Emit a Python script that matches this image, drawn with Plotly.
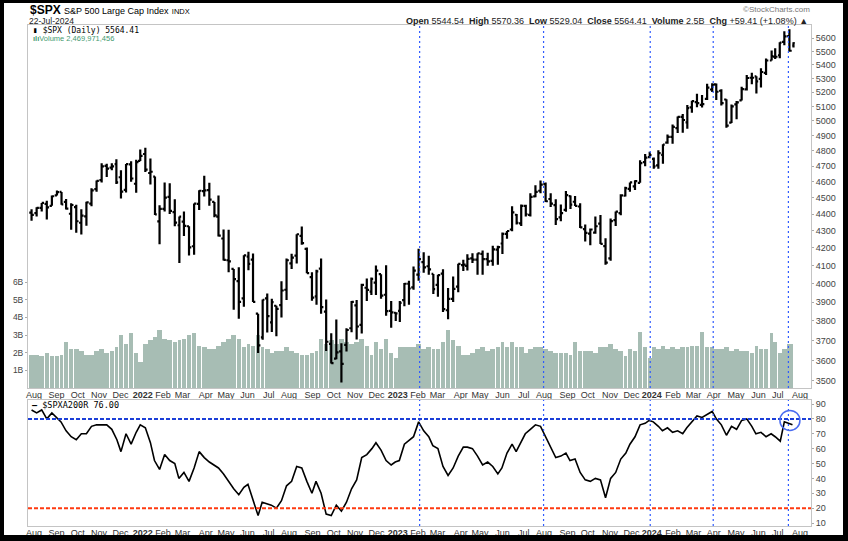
import math
import pandas as pd
import plotly.graph_objects as go

# Weekly $SPX bars (Mon-Fri weeks from 26-Jul-2021); the last entry is the single session of 22-Jul-2024
spx_open = [
    4409, 4406, 4437, 4462, 4450, 4514, 4536, 4474, 4402, 4442, 4348, 4386, 4464, 4553, 4610, 4701, 4689, 4712, 4628, 4548, 4710, 4587, 4733,
    4778, 4655, 4632, 4356, 4431, 4505, 4412, 4333, 4355, 4327, 4210, 4462, 4541, 4547, 4474, 4385, 4255, 4130, 4081, 4013, 3920, 4151, 4134, 3838, 3715, 3920,
    3792, 3880, 3883, 3966, 4112, 4156, 4270, 4195, 4035, 3930, 4083, 3849, 3682, 3609, 3645, 3677, 3762, 3882, 3780, 3977, 3956, 4005, 4052, 3939, 3853, 3843,
    3853, 3910, 3999, 3979, 4049, 4119, 4096, 4053, 3993, 4055, 3856, 3917, 3983, 4102, 4098, 4140, 4134, 4166, 4136, 4126, 4191, 4226, 4282, 4308, 4396, 4344,
    4450, 4395, 4508, 4543, 4584, 4492, 4454, 4380, 4426, 4510, 4475, 4446, 4310, 4284, 4289, 4343, 4211, 4140, 4364, 4406, 4512, 4555, 4570, 4593, 4725, 4758,
    4746, 4704, 4772, 4853, 4892, 4950, 5027, 4990, 5094, 5130, 5111, 5154, 5220, 5257, 5211, 5149, 4988, 5114, 5143, 5221, 5305, 5315, 5297, 5341, 5432, 5460,
    5471, 5572, 5616, 5545,
]
spx_high = [
    4429, 4441, 4468, 4481, 4513, 4545, 4536, 4492, 4466, 4457, 4429, 4475, 4559, 4608, 4718, 4714, 4718, 4743, 4672, 4713, 4731, 4740, 4808,
    4819, 4749, 4632, 4453, 4595, 4590, 4490, 4385, 4416, 4327, 4465, 4546, 4637, 4593, 4474, 4513, 4308, 4307, 4081, 4090, 4158, 4178, 4169, 3838, 3913, 3946,
    3918, 3880, 4012, 4140, 4167, 4280, 4325, 4203, 4062, 4076, 4140, 3914, 3736, 3807, 3685, 3762, 3906, 3911, 3999, 4028, 4034, 4100, 4052, 4101, 3905, 3846,
    3906, 4003, 4015, 4095, 4195, 4176, 4156, 4053, 4049, 4079, 3975, 4039, 4110, 4133, 4164, 4170, 4170, 4186, 4172, 4213, 4213, 4290, 4299, 4448, 4400, 4458,
    4456, 4528, 4578, 4607, 4595, 4527, 4490, 4458, 4541, 4514, 4511, 4466, 4338, 4314, 4385, 4394, 4256, 4374, 4415, 4521, 4568, 4595, 4609, 4738, 4778, 4793,
    4755, 4802, 4842, 4907, 4975, 5030, 5048, 5111, 5140, 5189, 5180, 5261, 5265, 5264, 5222, 5150, 5114, 5139, 5240, 5325, 5342, 5315, 5375, 5447, 5506, 5524,
    5570, 5655, 5669, 5570,
]
spx_low = [
    4360, 4385, 4416, 4367, 4450, 4513, 4457, 4427, 4306, 4289, 4278, 4330, 4447, 4537, 4595, 4630, 4672, 4585, 4495, 4532, 4600, 4531, 4733,
    4662, 4582, 4395, 4222, 4415, 4401, 4327, 4115, 4270, 4157, 4161, 4424, 4507, 4450, 4381, 4267, 4129, 4062, 3859, 3811, 3875, 4073, 3900, 3637, 3703, 3740,
    3743, 3721, 3818, 3911, 4080, 4112, 4218, 4057, 3907, 3886, 3838, 3647, 3584, 3606, 3492, 3644, 3742, 3704, 3735, 3906, 3938, 3938, 3918, 3827, 3765, 3800,
    3794, 3877, 3885, 3966, 4015, 4060, 4048, 3943, 3928, 3847, 3809, 3900, 3952, 4070, 4072, 4114, 4049, 4048, 4099, 4099, 4104, 4166, 4253, 4298, 4337, 4328,
    4385, 4386, 4502, 4528, 4474, 4443, 4335, 4357, 4414, 4430, 4449, 4317, 4238, 4216, 4283, 4223, 4104, 4127, 4329, 4393, 4507, 4537, 4547, 4593, 4699, 4751,
    4682, 4682, 4714, 4845, 4845, 4918, 4920, 4946, 5057, 5094, 5092, 5146, 5203, 5146, 5107, 4953, 4986, 5011, 5142, 5212, 5257, 5191, 5234, 5325, 5432, 5444,
    5448, 5546, 5497, 5529,
]
spx_close = [
    4395, 4437, 4468, 4441, 4509, 4535, 4459, 4433, 4455, 4357, 4391, 4471, 4545, 4605, 4697, 4683, 4698, 4595, 4538, 4712, 4620, 4725, 4766,
    4677, 4663, 4398, 4432, 4501, 4419, 4349, 4385, 4329, 4204, 4463, 4543, 4546, 4488, 4393, 4272, 4132, 4123, 4024, 3901, 4158, 4109, 3901, 3675, 3912, 3825,
    3899, 3863, 3962, 4130, 4145, 4280, 4228, 4058, 3924, 4067, 3873, 3693, 3586, 3640, 3583, 3753, 3901, 3771, 3993, 3965, 4026, 4072, 3934, 3852, 3845, 3840,
    3895, 3999, 3973, 4071, 4136, 4090, 4079, 3970, 4046, 3862, 3917, 3971, 4109, 4105, 4138, 4133, 4169, 4136, 4124, 4192, 4205, 4282, 4299, 4410, 4348, 4450,
    4399, 4505, 4536, 4582, 4478, 4464, 4370, 4406, 4516, 4457, 4450, 4320, 4288, 4308, 4327, 4224, 4117, 4358, 4415, 4514, 4559, 4595, 4604, 4719, 4754, 4770,
    4697, 4784, 4840, 4891, 4959, 5027, 5006, 5089, 5137, 5124, 5117, 5234, 5254, 5204, 5123, 4967, 5100, 5128, 5223, 5303, 5305, 5278, 5347, 5432, 5465, 5460,
    5567, 5615, 5505, 5564,
]
# average daily volume per week, in billions of shares
volume_b = [
    1.9, 1.9, 1.8, 2.0, 1.8, 1.8, 1.9, 2.6, 2.2, 2.2, 2.1, 1.9, 1.9, 2.1, 2.2, 2.0, 2.1, 2.3, 3.0, 2.5, 3.1, 2.0, 1.5,
    2.5, 2.7, 2.9, 3.3, 2.8, 2.7, 2.6, 2.7, 2.8, 3.0, 3.1, 2.4, 2.3, 2.2, 2.2, 2.4, 2.6, 2.8, 3.0, 2.8, 2.3, 2.5, 2.4, 3.0, 2.3, 2.2,
    2.0, 2.1, 2.1, 2.3, 2.1, 2.0, 1.9, 1.9, 2.0, 2.1, 2.8, 2.5, 2.7, 2.5, 2.8, 2.6, 2.5, 2.6, 2.8, 2.4, 1.9, 2.6, 2.2, 2.8, 2.0, 1.7,
    2.3, 2.3, 2.3, 2.3, 2.5, 2.2, 2.3, 2.2, 2.2, 2.6, 3.3, 2.7, 2.4, 1.9, 1.9, 2.0, 2.2, 2.3, 2.1, 2.2, 2.3, 2.6, 2.3, 2.6, 2.3, 2.3,
    2.0, 2.2, 2.3, 2.3, 2.2, 2.1, 2.0, 2.0, 2.0, 1.9, 2.6, 2.1, 2.1, 2.1, 2.0, 2.3, 2.3, 2.5, 2.2, 2.1, 1.8, 2.2, 2.1, 3.2, 2.3, 1.7,
    2.3, 2.2, 2.4, 2.2, 2.3, 2.2, 2.3, 2.3, 2.4, 2.4, 3.2, 2.3, 2.3, 2.2, 2.2, 2.3, 2.1, 2.2, 2.1, 2.1, 2.0, 2.4, 2.2, 2.2, 3.1, 2.6,
    2.0, 2.2, 2.5, 2.5,
]
# $SPXA200R - % of S&P 500 stocks above their 200-day moving average
spxa200r = [
    86, 84, 86, 80, 84, 81, 78, 72, 68, 66, 70, 70, 75, 76, 76, 76, 73, 66, 58, 70, 63, 71, 76,
    74, 64, 52, 46, 56, 52, 50, 40, 44, 38, 47, 58, 54, 51, 49, 47, 43, 38, 33, 29, 34, 36, 26, 15, 24, 23,
    22, 20, 25, 35, 38, 48, 47, 38, 30, 38, 30, 16, 15, 22, 18, 24, 33, 39, 54, 56, 60, 64, 59, 52, 49, 51,
    52, 63, 65, 68, 78, 72, 68, 62, 60, 48, 42, 47, 55, 61, 61, 60, 55, 49, 51, 48, 43, 47, 57, 63, 58, 65,
    70, 73, 76, 75, 68, 62, 54, 55, 57, 52, 53, 44, 39, 38, 40, 39, 27, 40, 44, 53, 57, 63, 68, 76, 77, 79,
    78, 75, 72, 74, 71, 72, 70, 74, 78, 82, 81, 83, 85, 80, 76, 69, 75, 73, 79, 80, 75, 70, 71, 68, 70, 68,
    65, 78, 77, 76,
]

month_ticks = [
    "2021-08-02", "2021-09-01", "2021-10-01", "2021-11-01", "2021-12-01",
    "2022-01-03", "2022-02-01", "2022-03-01", "2022-04-01", "2022-05-02", "2022-06-01",
    "2022-07-01", "2022-08-01", "2022-09-01", "2022-10-03", "2022-11-01", "2022-12-01",
    "2023-01-03", "2023-02-01", "2023-03-01", "2023-04-03", "2023-05-01", "2023-06-01",
    "2023-07-03", "2023-08-01", "2023-09-01", "2023-10-02", "2023-11-01", "2023-12-01",
    "2024-01-02", "2024-02-01", "2024-03-01", "2024-04-01", "2024-05-01", "2024-06-03",
    "2024-07-01", "2024-08-01",
]
month_labels = [
    "Aug", "Sep", "Oct", "Nov", "Dec",
    "<b>2022</b>", "Feb", "Mar", "Apr", "May", "Jun", "Jul", "Aug", "Sep", "Oct", "Nov", "Dec",
    "<b>2023</b>", "Feb", "Mar", "Apr", "May", "Jun", "Jul", "Aug", "Sep", "Oct", "Nov", "Dec",
    "<b>2024</b>", "Feb", "Mar", "Apr", "May", "Jun", "Jul", "Aug",
]
price_ticks = list(range(3500, 5700, 100))
volume_ticks = [1, 2, 3, 4, 5, 6]
breadth_ticks = [10, 20, 30, 40, 50, 60, 70, 80, 90]
signal_days = ["2023-02-02", "2023-07-31", "2023-12-28", "2024-03-28", "2024-07-16"]
market_holidays = [
    "2021-09-06", "2021-11-25", "2021-12-24",
    "2022-01-17", "2022-02-21", "2022-04-15", "2022-05-30", "2022-06-20", "2022-07-04",
    "2022-09-05", "2022-11-24", "2022-12-26",
    "2023-01-02", "2023-01-16", "2023-02-20", "2023-04-07", "2023-05-29", "2023-06-19",
    "2023-07-04", "2023-09-04", "2023-11-23", "2023-12-25",
    "2024-01-01", "2024-01-15", "2024-02-19", "2024-03-29", "2024-05-27", "2024-06-19", "2024-07-04",
]

n = len(spx_close)
for arr in (spx_open, spx_high, spx_low, volume_b, spxa200r):
    assert len(arr) == n, (len(arr), n)

# one x per week (mid-week, mid-day), skipping a holiday wednesday
hol = set(pd.to_datetime(market_holidays))
weeks = pd.date_range("2021-07-28", periods=n - 1, freq="7D")
weeks = [d + pd.Timedelta(days=1) if d in hol else d for d in weeks]
x_week = [d + pd.Timedelta(hours=12) for d in weeks] + [pd.Timestamp("2024-07-22 12:00")]
DAY = 86400000
bar_w = [4.5 * DAY] * (n - 1) + [DAY]

W, H = 848, 541
def px(x):
    return x / W
def py(y):
    return 1 - y / H

FONT = "Arial, Liberation Sans, sans-serif"
MONO = "DejaVu Sans Mono, Liberation Mono, monospace"

fig = go.Figure()

fig.add_trace(go.Bar(
    x=x_week, y=volume_b, width=bar_w, marker=dict(color="#a7bdb4", line_width=0),
    xaxis="x", yaxis="y", hoverinfo="skip", showlegend=False,
))
fig.add_trace(go.Ohlc(
    x=x_week, open=spx_open, high=spx_high, low=spx_low, close=spx_close,
    increasing_line_color="black", decreasing_line_color="black",
    line_width=2.2, tickwidth=0.45, xaxis="x", yaxis="y3", hoverinfo="skip", showlegend=False,
))
fig.add_trace(go.Scatter(
    x=x_week, y=spxa200r, mode="lines", line=dict(color="black", width=1.6),
    xaxis="x2", yaxis="y2", hoverinfo="skip", showlegend=False,
))

xdom = [px(28), px(811)]
xrange_ = ["2021-07-23", "2024-08-15 18:00"]
breaks = [dict(bounds=["sat", "mon"]), dict(values=market_holidays)]
axis_line = dict(showline=True, mirror=True, linecolor="#c4c4c4", linewidth=1, showgrid=False,
                 zeroline=False, automargin=False)
xcommon = dict(type="date", range=xrange_, rangebreaks=breaks, tickmode="array",
               tickvals=month_ticks, ticktext=month_labels, ticks="", ticklen=0, ticklabelstandoff=-2,
               tickfont=dict(family=FONT, size=9, color="#333333"), **axis_line)

fig.update_layout(
    width=W, height=H, margin=dict(l=0, r=0, t=0, b=0),
    paper_bgcolor="white", plot_bgcolor="white", bargap=0,
    font=dict(family=FONT, color="#222222"),
    xaxis=dict(domain=xdom, anchor="y", rangeslider=dict(visible=False), **xcommon),
    xaxis2=dict(domain=xdom, anchor="y2", matches="x", **xcommon),
    yaxis=dict(domain=[py(388), py(25)], anchor="x", side="left", range=[0, 20.6],
               tickmode="array", tickvals=volume_ticks, ticktext=[f"{v}B" for v in volume_ticks],
               ticks="outside", ticklen=2, tickcolor="#aaaaaa",
               tickfont=dict(family=FONT, size=8.5, color="#444444"), **axis_line),
    yaxis3=dict(overlaying="y", anchor="x", side="right", type="log",
                range=[math.log10(3466), math.log10(5703)],
                tickmode="array", tickvals=price_ticks, ticktext=[str(v) for v in price_ticks],
                ticks="outside", ticklen=2, tickcolor="#aaaaaa",
                tickfont=dict(family=FONT, size=9, color="#444444"),
                showgrid=False, zeroline=False, showline=False, automargin=False),
    yaxis2=dict(domain=[py(526), py(400)], anchor="x2", side="right", range=[8, 92.7],
                tickmode="array", tickvals=breadth_ticks, ticks="outside", ticklen=2, tickcolor="#aaaaaa",
                tickfont=dict(family=FONT, size=9, color="#444444"), **axis_line),
)

shapes = []
# signal days: dotted blue verticals through both panels
for d in signal_days:
    for xr, yr in (("x", "y domain"), ("x2", "y2 domain")):
        shapes.append(dict(type="line", xref=xr, yref=yr, x0=d + " 12:00", x1=d + " 12:00", y0=0, y1=1,
                           line=dict(color="#2f5bff", width=1.2, dash="2px,3px"), layer="above"))
# 80 / 20 thresholds
shapes.append(dict(type="line", xref="x2 domain", yref="y2", x0=0, x1=1, y0=80, y1=80,
                   line=dict(color="#1c3fd8", width=2, dash="4px,2px")))
shapes.append(dict(type="line", xref="x2 domain", yref="y2", x0=0, x1=1, y0=20, y1=20,
                   line=dict(color="#ff3a10", width=2, dash="4px,2px")))
# circle on the latest reading
shapes.append(dict(type="circle", xref="x2", yref="y2", xsizemode="pixel", ysizemode="pixel",
                   xanchor="2024-07-18", yanchor=79, x0=-10, x1=10, y0=-10, y1=10,
                   line=dict(color="#4a6cf0", width=1.5)))
# outer black frame
for x0, x1, y0, y1 in ((0, 4, 0, H), (843, W, 0, H), (0, W, 0, 3), (0, W, 535, H)):
    shapes.append(dict(type="rect", xref="paper", yref="paper", x0=px(x0), x1=px(x1),
                       y0=py(y1), y1=py(y0), fillcolor="black", line_width=0))
fig.update_layout(shapes=shapes)

annos = [
    dict(x=px(28), y=py(9.5), xanchor="left",
         text="<b>$SPX</b> <span style='font-size:9px'>S&amp;P 500 Large Cap Index</span> "
              "<span style='font-size:7.5px'>INDX</span>",
         font=dict(family=FONT, size=12, color="black")),
    dict(x=px(27), y=py(21), xanchor="left", text="22-Jul-2024",
         font=dict(family=FONT, size=8.5, color="#222222")),
    dict(x=px(812), y=py(9.5), xanchor="right", text="©StockCharts.com",
         font=dict(family=FONT, size=8, color="#777777")),
    dict(x=px(810), y=py(20.5), xanchor="right",
         text="<b>Open</b> 5544.54 &nbsp;<b>High</b> 5570.36 &nbsp;<b>Low</b> 5529.04 &nbsp;"
              "<b>Close</b> 5564.41 &nbsp;<b>Volume</b> 2.5B &nbsp;<b>Chg</b> +59.41 (+1.08%) ▲",
         font=dict(family=FONT, size=9, color="#222222")),
    dict(x=px(31), y=py(30), xanchor="left", text="<b>▮</b> $SPX (Daily) 5564.41",
         font=dict(family=MONO, size=8, color="black")),
    dict(x=px(31), y=py(38.5), xanchor="left", text="<b>ılı</b>Volume 2,469,971,456",
         font=dict(family=FONT, size=7.5, color="#3f9a70")),
    dict(x=px(30), y=py(405), xanchor="left", text="<b>—</b> $SPXA200R 76.00",
         font=dict(family=MONO, size=8.5, color="black")),
]
for a in annos:
    a.update(xref="paper", yref="paper", yanchor="middle", showarrow=False)
fig.update_layout(annotations=annos)

# the page's default 8px body margin would push the chart off the window
fig.write_html("out.html", config={"displayModeBar": False},
               post_script="document.body.style.margin='0';")
